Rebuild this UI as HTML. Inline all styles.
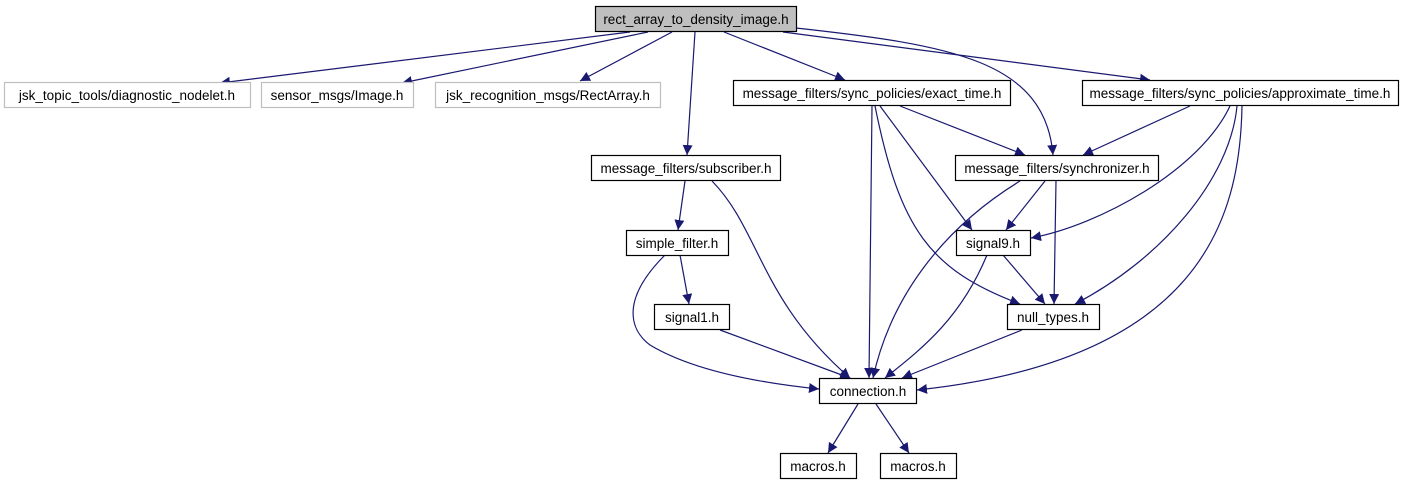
<!DOCTYPE html>
<html><head><meta charset="utf-8"><style>
html,body{margin:0;padding:0;background:#fff;}
svg{display:block;}
text{font-family:"Liberation Sans",sans-serif;font-size:13.5px;fill:#000;text-anchor:middle;}
</style></head><body>
<svg width="1405" height="485" viewBox="0 0 1405 485" xmlns="http://www.w3.org/2000/svg">
<defs><marker id="a" viewBox="0 0 10 10" refX="10" refY="5" markerWidth="10" markerHeight="10" markerUnits="userSpaceOnUse" orient="auto"><path d="M0,0 L10,5 L0,10 z" fill="#191970"/></marker></defs>
<g fill="none" stroke="#191970" stroke-width="1.2" marker-end="url(#a)">
<path d="M630,32 L220,83"/>
<path d="M648,32 L402,83"/>
<path d="M672,32 L580,81"/>
<path d="M695,32 L687,155"/>
<path d="M724,32 L845,80"/>
<path d="M796,28 C950,45 1045,60 1053,155"/>
<path d="M783,32 L1150,80"/>
<path d="M900,106 L1025,155"/>
<path d="M872,106 L869,378"/>
<path d="M880,106 L972,230"/>
<path d="M875,106 C900,230 930,270 1020,304"/>
<path d="M1190,106 L1083,155"/>
<path d="M1230,106 C1200,170 1100,225 1031,238"/>
<path d="M1237,106 C1230,180 1160,260 1075,304"/>
<path d="M1242,106 C1240,220 1200,360 917,390"/>
<path d="M685,181 L678,230"/>
<path d="M712,181 C760,230 760,300 850,378"/>
<path d="M1045,181 L1006,230"/>
<path d="M1056,181 L1054,304"/>
<path d="M1020,181 C940,230 890,300 873,378"/>
<path d="M680,255 L689,304"/>
<path d="M665,255 C620,300 630,330 650,345 C700,375 780,385 819,389"/>
<path d="M720,330 L850,378"/>
<path d="M987,255 C960,320 920,350 885,378"/>
<path d="M1003,255 L1045,304"/>
<path d="M1022,330 L902,378"/>
<path d="M858,404 L828,453"/>
<path d="M876,404 L909,453"/>
</g>
<g stroke-width="1.2">
<rect x="595.5" y="6.5" width="201" height="25" fill="#bfbfbf" stroke="#000"/>
<rect x="4.5" y="82.5" width="246" height="25" fill="#fff" stroke="#bfbfbf"/>
<rect x="261.5" y="82.5" width="152" height="25" fill="#fff" stroke="#bfbfbf"/>
<rect x="435.5" y="82.5" width="225" height="25" fill="#fff" stroke="#bfbfbf"/>
<rect x="733.5" y="80.5" width="277" height="25" fill="#fff" stroke="#000"/>
<rect x="1082.5" y="80.5" width="316" height="25" fill="#fff" stroke="#000"/>
<rect x="591.5" y="155.5" width="189" height="25" fill="#fff" stroke="#000"/>
<rect x="955.5" y="155.5" width="203" height="25" fill="#fff" stroke="#000"/>
<rect x="626.5" y="230.5" width="102" height="25" fill="#fff" stroke="#000"/>
<rect x="956.5" y="230.5" width="74" height="25" fill="#fff" stroke="#000"/>
<rect x="654.5" y="304.5" width="75" height="25" fill="#fff" stroke="#000"/>
<rect x="1007.5" y="304.5" width="92" height="25" fill="#fff" stroke="#000"/>
<rect x="819.5" y="378.5" width="97" height="25" fill="#fff" stroke="#000"/>
<rect x="780.5" y="453.5" width="76" height="25" fill="#fff" stroke="#000"/>
<rect x="880.5" y="453.5" width="76" height="25" fill="#fff" stroke="#000"/>
</g>
<text x="696" y="24">rect_array_to_density_image.h</text>
<text x="127" y="100">jsk_topic_tools/diagnostic_nodelet.h</text>
<text x="337" y="100">sensor_msgs/Image.h</text>
<text x="548" y="100">jsk_recognition_msgs/RectArray.h</text>
<text x="872" y="98">message_filters/sync_policies/exact_time.h</text>
<text x="1240" y="98">message_filters/sync_policies/approximate_time.h</text>
<text x="686" y="173">message_filters/subscriber.h</text>
<text x="1057" y="173">message_filters/synchronizer.h</text>
<text x="677" y="248">simple_filter.h</text>
<text x="993" y="248">signal9.h</text>
<text x="692" y="322">signal1.h</text>
<text x="1053" y="322">null_types.h</text>
<text x="868" y="396">connection.h</text>
<text x="818" y="471">macros.h</text>
<text x="918" y="471">macros.h</text>
</svg>
</body></html>
